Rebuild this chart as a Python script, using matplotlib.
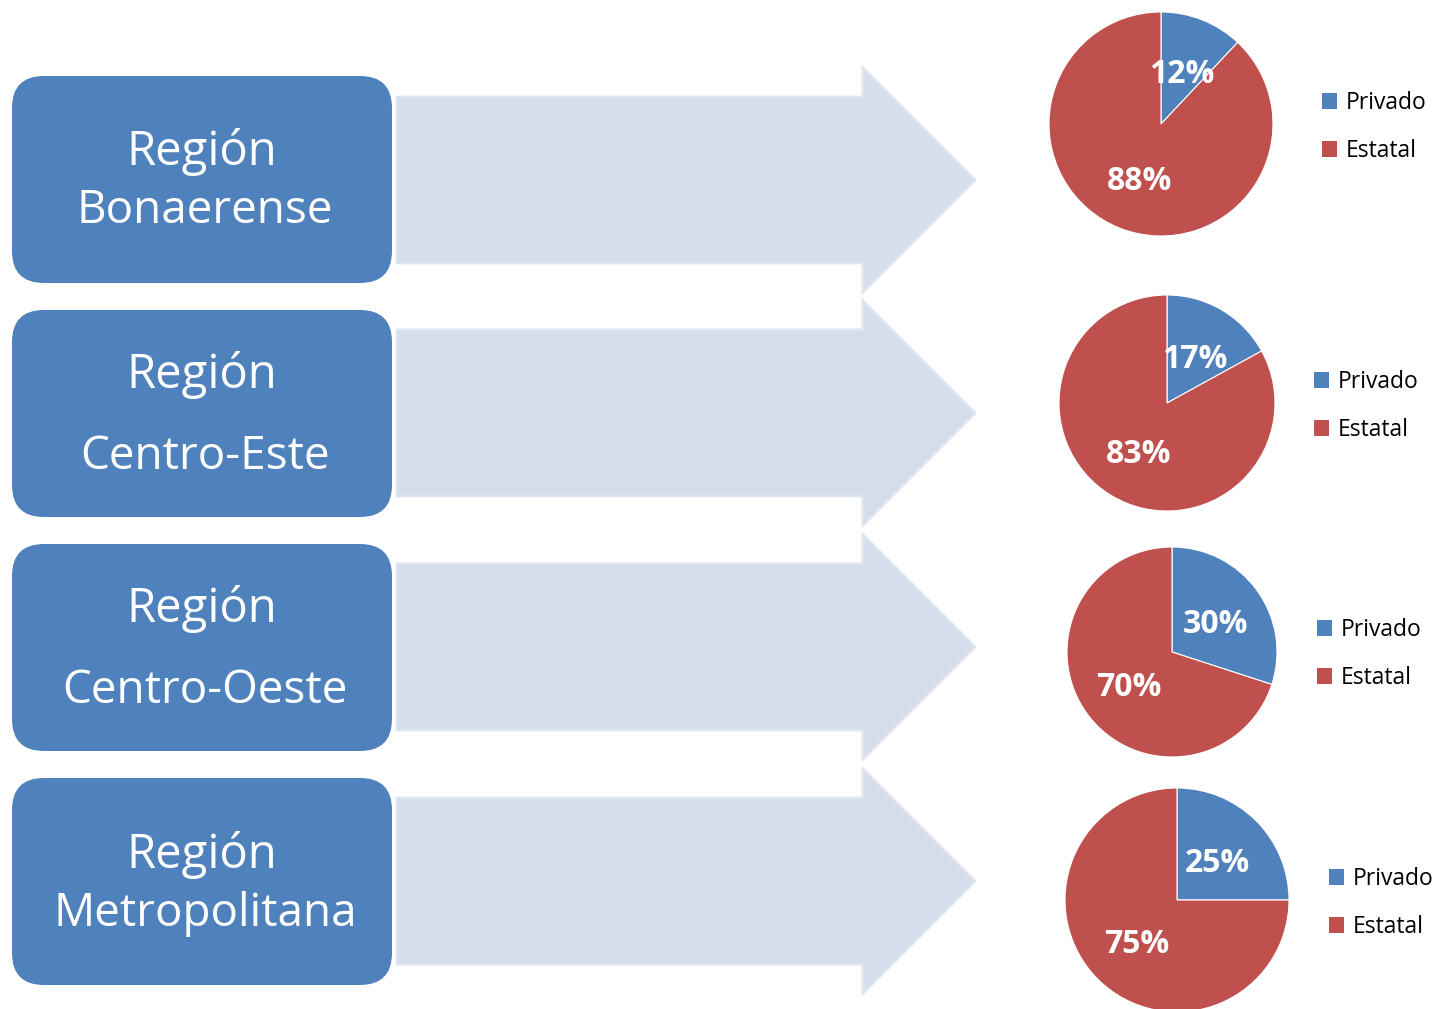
import matplotlib.pyplot as plt
from matplotlib.patches import FancyBboxPatch, Polygon, Patch

# datos
regiones = [("Región", "Bonaerense"), ("Región", "Centro-Este"),
            ("Región", "Centro-Oeste"), ("Región", "Metropolitana")]
categorias = ["Privado", "Estatal"]
privado = [12, 17, 30, 25]
estatal = [88, 83, 70, 75]

W, H = 1435, 1009
AZUL = "#4F81BD"
ROJO = "#C0504D"
FLECHA = "#D5DCEA"

# geometria (pixeles)
cajas_y = [76, 310, 544, 778]
caja_h = 207
lineas_y = [(152, 211), (375, 457), (609, 691), (855, 914)]
flecha_cy = [180, 413, 647, 881]
pies = [(1161, 124, 112), (1167, 403, 108), (1172, 652, 105), (1177, 900, 112)]
leyenda_xy = [(1322, 91), (1314, 370), (1317, 618), (1329, 867)]

plt.rcParams['font.family'] = ['Open Sans', 'DejaVu Sans']

fig = plt.figure(figsize=(W / 100, H / 100), dpi=100)
ax = fig.add_axes([0, 0, 1, 1])
ax.set_xlim(0, W)
ax.set_ylim(H, 0)
ax.axis("off")

for i, (l1, l2) in enumerate(regiones):
    y0 = cajas_y[i]
    # flecha
    cy = flecha_cy[i]
    pts = [(397, cy - 83), (863, cy - 83), (863, cy - 112), (975, cy),
           (863, cy + 112), (863, cy + 83), (397, cy + 83)]
    ax.add_patch(Polygon(pts, closed=True, facecolor=FLECHA, edgecolor="#DEE4EF", lw=2, zorder=1))
    # caja
    ax.add_patch(FancyBboxPatch((12, y0), 380, caja_h,
                                boxstyle="round,pad=0,rounding_size=32",
                                facecolor=AZUL, edgecolor="none", zorder=2))
    ya, yb = lineas_y[i]
    ax.text(202, ya, l1, color="white", fontsize=34, ha="center", va="center", zorder=3)
    ax.text(205, yb, l2, color="white", fontsize=33, ha="center", va="center", zorder=3)

    # torta
    cx, cyp, r = pies[i]
    pax = fig.add_axes([(cx - r) / W, (H - cyp - r) / H, 2 * r / W, 2 * r / H])
    _, _, pct = pax.pie([privado[i], estatal[i]], colors=[AZUL, ROJO], startangle=90,
                        counterclock=False, autopct="%d%%", pctdistance=0.51,
                        wedgeprops=dict(edgecolor="white", linewidth=0.8),
                        textprops=dict(color="white", fontsize=23, fontweight="bold"))
    for t in pct:
        x, y = t.get_position()
        t.set_position((x, y - 0.035))
    pax.set_xlim(-1, 1)
    pax.set_ylim(-1, 1)
    pax.set_aspect("auto")

    lx, ly = leyenda_xy[i]
    handles = [Patch(facecolor=AZUL), Patch(facecolor=ROJO)]
    fig.legend(handles, categorias, loc="upper left",
               bbox_to_anchor=(lx / W, 1 - ly / H), frameon=False, fontsize=16.5,
               handlelength=0.65, handleheight=0.65, handletextpad=0.4,
               labelspacing=1.05, borderpad=0, borderaxespad=0)

fig.savefig("out.png", dpi=100)
